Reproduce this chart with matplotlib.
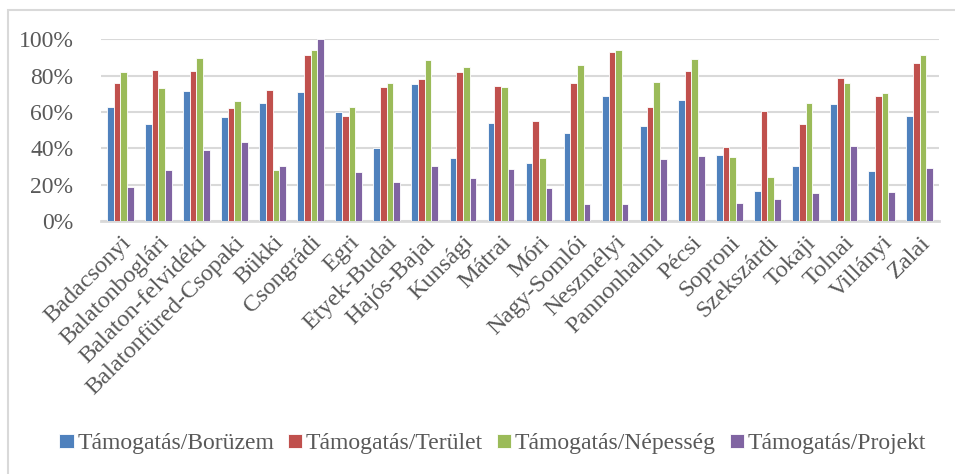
import matplotlib
matplotlib.use('Agg')

import matplotlib.pyplot as plt
import numpy as np
from matplotlib.patches import Rectangle
from matplotlib.ticker import FuncFormatter

#=====Data=====
regions = ['Badacsonyi', 'Balatonboglári', 'Balaton-felvidéki', 'Balatonfüred-Csopaki',
           'Bükki', 'Csongrádi', 'Egri', 'Etyek-Budai', 'Hajós-Bajai', 'Kunsági',
           'Mátrai', 'Móri', 'Nagy-Somlói', 'Neszmélyi', 'Pannonhalmi', 'Pécsi',
           'Soproni', 'Szekszárdi', 'Tokaji', 'Tolnai', 'Villányi', 'Zalai']

boruzem = [62.7, 53.5, 71.5, 57.3, 64.7, 71.1, 60.0, 40.0, 75.5, 34.7, 54.0,
           31.8, 48.3, 68.7, 52.4, 66.5, 36.4, 16.4, 30.5, 64.5, 27.6, 57.9]
terulet = [75.7, 82.9, 82.5, 62.1, 72.2, 91.1, 58.0, 74.0, 78.3, 82.0, 74.4,
           55.0, 75.9, 93.3, 62.8, 82.7, 40.8, 60.6, 53.3, 78.5, 69.0, 86.9]
nepesseg = [82.1, 73.1, 89.9, 66.2, 28.1, 94.4, 63.0, 76.0, 88.6, 85.0, 73.8,
            34.7, 86.0, 94.0, 76.3, 89.3, 35.3, 24.3, 65.2, 75.7, 70.2, 91.1]
projekt = [18.9, 27.9, 39.3, 43.4, 30.2, 100.0, 27.0, 21.3, 30.0, 23.7, 28.5,
           18.0, 9.4, 9.4, 34.2, 35.7, 9.9, 12.0, 15.3, 41.2, 15.8, 29.2]

series_names = ['Támogatás/Borüzem', 'Támogatás/Terület',
                'Támogatás/Népesség', 'Támogatás/Projekt']
colors = ['#4F81BD', '#C0504D', '#9BBB59', '#8064A2']
#==============

plt.rcParams['font.family'] = ['Liberation Serif', 'DejaVu Serif']
TEXT = '#595959'
GRID = '#D9D9D9'

fig = plt.figure(figsize=(9.55, 4.74), dpi=100)
ax = fig.add_axes([0.106, 0.534, 0.877, 0.383])

# chart frame (only left/top edges visible in the picture)
fig.patches.append(Rectangle((8 / 955, -0.1), 1.2, 1.1 - 10 / 474,
                             transform=fig.transFigure, fill=False,
                             edgecolor=GRID, linewidth=1.5))

x = np.arange(len(regions))
width = 0.175
data = [boruzem, terulet, nepesseg, projekt]
for i, (vals, name, c) in enumerate(zip(data, series_names, colors)):
    ax.bar(x + (i - 1.5) * width, vals, width, color=c, label=name,
           edgecolor='white', linewidth=0.6, zorder=3)

ax.set_xlim(-0.5, len(regions) - 0.5)
ax.set_ylim(0, 100)
ax.set_yticks(np.arange(0, 101, 20))
ax.yaxis.set_major_formatter(FuncFormatter(lambda v, p: f'{v:.0f}%'))
ax.grid(axis='y', color=GRID, linewidth=1.5, zorder=0)

for s in ['top', 'right', 'left']:
    ax.spines[s].set_visible(False)
ax.spines['bottom'].set_color(GRID)
ax.spines['bottom'].set_linewidth(2)

ax.set_xticks(x)
ax.set_xticklabels(regions, rotation=45, ha='right', rotation_mode='anchor')
ax.tick_params(axis='both', length=0, colors=TEXT)
ax.tick_params(axis='y', pad=20, labelsize=17)
ax.tick_params(axis='x', pad=8, labelsize=17.5)

fig.legend(loc='center', bbox_to_anchor=(0.516, 1 - 444 / 474), ncol=4,
           frameon=False, fontsize=17, labelcolor=TEXT, handlelength=0.6,
           handleheight=0.55, handletextpad=0.15, columnspacing=0.6)

plt.savefig('out.png', dpi=100)
